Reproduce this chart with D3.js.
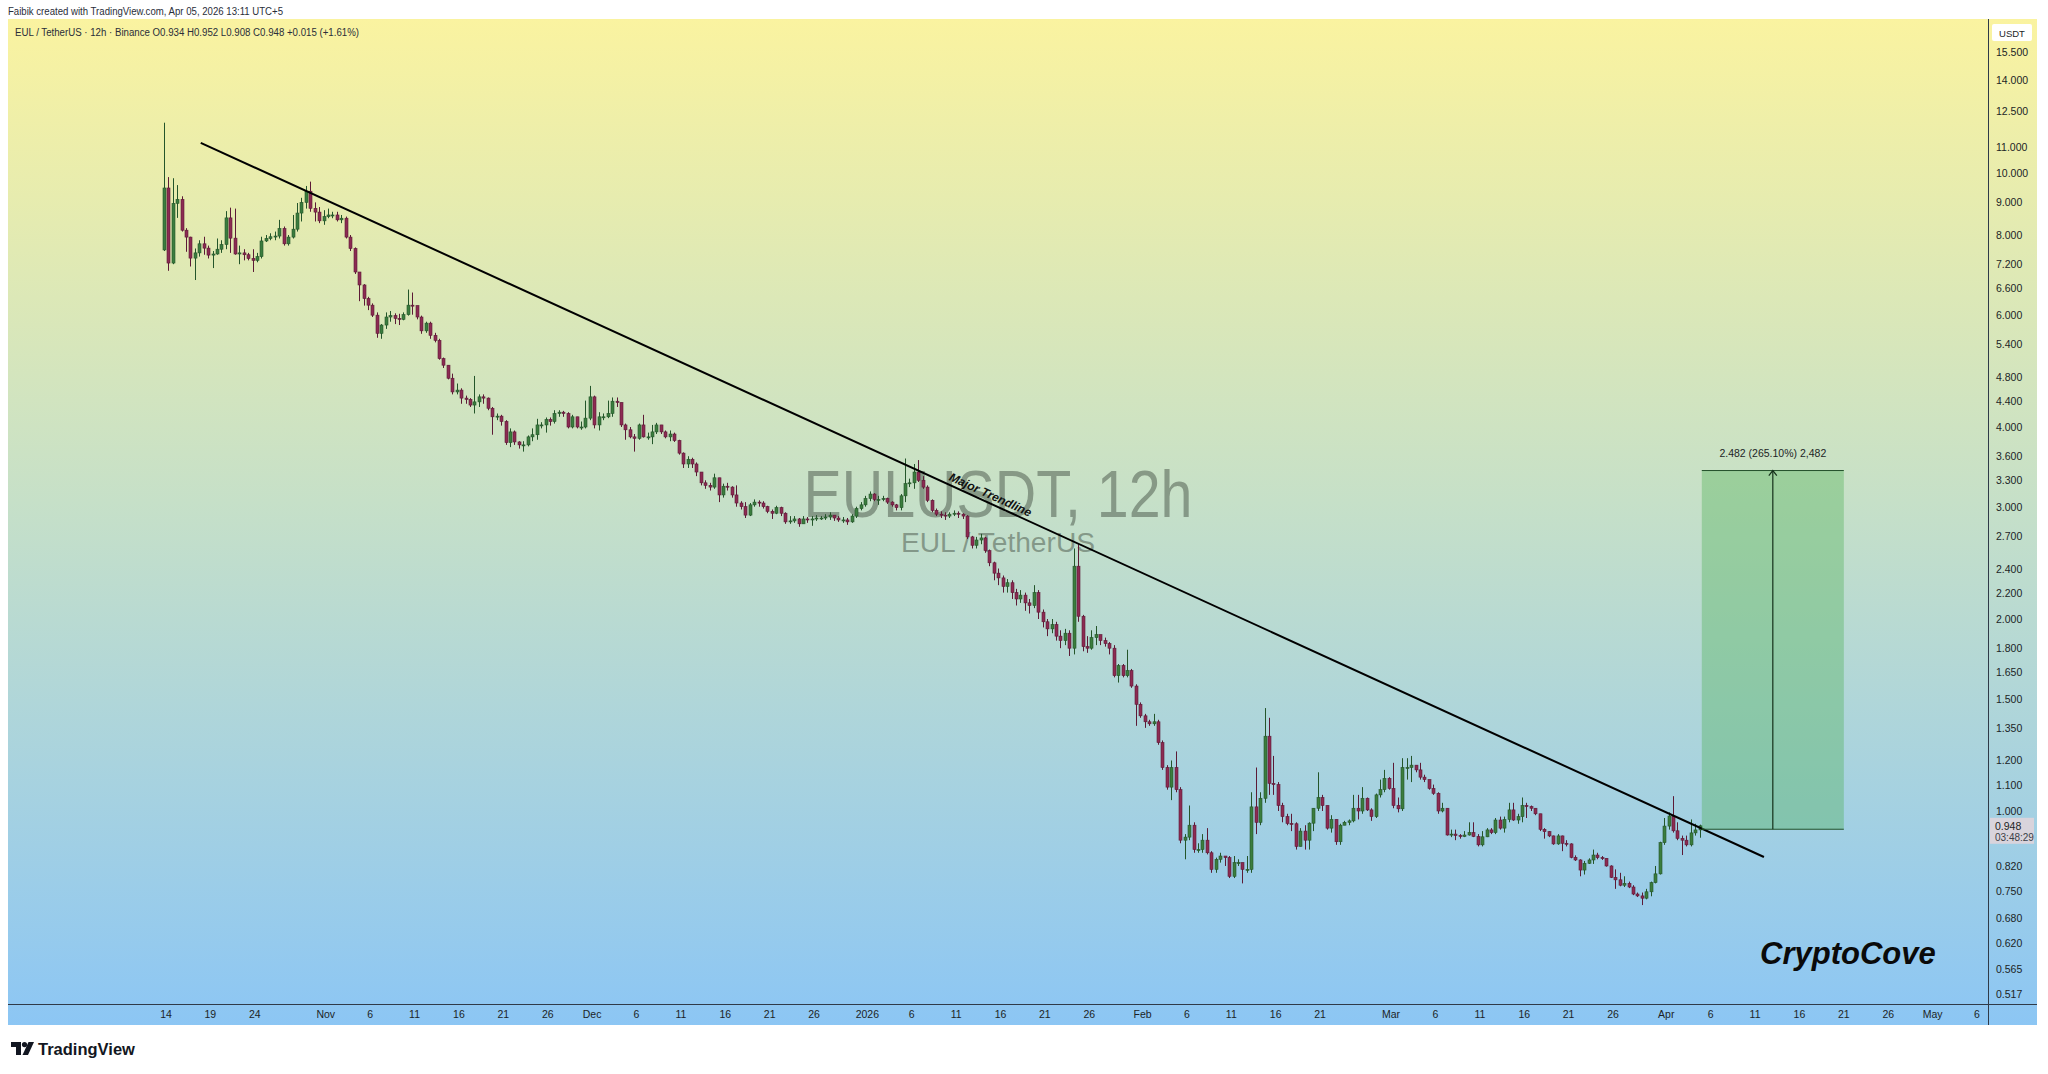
<!DOCTYPE html>
<meta charset="utf-8">
<title>EULUSDT, 12h</title>
<style>
body { margin: 0; background: #ffffff; }
text { font-family: "Liberation Sans", Arial, sans-serif; }
</style>
<svg width="2048" height="1074"></svg>
<script src="https://d3js.org/d3.v7.min.js"></script>
<script>

// 12h candles, EUL / TetherUS (Binance)
var startTime = Date.UTC(2025, 9, 13, 18);
var firstOpen = 7.58;

var closes = [
  9.48,7.23,8.97,9.1,8.14,7.94,7.36,7.5,7.75,7.63,
  7.44,7.47,7.6,7.73,8.51,7.91,7.47,7.5,7.45,7.35,
  7.3,7.4,7.83,7.9,7.95,7.97,8.19,7.75,7.94,8.17,
  8.66,9.0,9.37,8.81,8.69,8.42,8.55,8.6,8.6,8.45,
  8.5,7.94,7.62,7.0,6.68,6.36,6.21,5.99,5.61,5.78,
  5.95,5.98,5.92,5.9,6.0,6.21,6.2,5.95,5.66,5.82,
  5.57,5.47,5.12,5.0,4.77,4.54,4.57,4.44,4.42,4.33,
  4.38,4.46,4.44,4.28,4.15,4.16,4.08,3.78,3.93,3.79,
  3.75,3.75,3.86,3.89,4.03,4.03,4.11,4.08,4.2,4.22,
  4.2,4.0,4.15,4.0,4.0,4.13,4.46,4.03,4.15,4.15,
  4.2,4.39,4.37,4.03,3.96,3.86,3.84,4.03,3.86,3.86,
  3.93,4.03,3.93,3.86,3.9,3.81,3.64,3.5,3.56,3.5,
  3.4,3.27,3.24,3.22,3.33,3.13,3.23,3.22,3.13,3.04,
  3.0,2.91,3.02,3.05,3.04,3.0,2.95,2.93,2.99,2.93,
  2.84,2.85,2.87,2.82,2.87,2.86,2.87,2.88,2.88,2.89,
  2.91,2.88,2.86,2.86,2.84,2.9,2.98,3.02,3.09,3.14,
  3.08,3.08,3.09,3.05,3.02,2.99,3.12,3.26,3.27,3.4,
  3.3,3.22,3.07,2.96,2.92,2.91,2.9,2.92,2.93,2.92,
  2.9,2.69,2.61,2.66,2.68,2.56,2.45,2.36,2.32,2.25,
  2.28,2.2,2.15,2.18,2.12,2.1,2.2,2.05,1.98,1.93,
  1.96,1.88,1.85,1.9,1.8,2.42,2.02,1.81,1.8,1.87,
  1.89,1.85,1.83,1.8,1.63,1.69,1.63,1.66,1.57,1.47,
  1.41,1.38,1.37,1.38,1.28,1.17,1.09,1.17,1.08,0.9,
  0.91,0.95,0.87,0.87,0.9,0.86,0.81,0.84,0.85,0.845,
  0.79,0.83,0.83,0.81,0.81,1.015,0.96,1.047,1.31,1.105,
  1.1,1.02,0.98,0.956,0.955,0.88,0.93,0.9,0.957,1.01,
  1.05,1.02,0.94,0.97,0.895,0.95,0.96,0.965,1.01,1.0,
  1.047,1.004,0.98,1.06,1.08,1.125,1.085,1.02,1.008,1.17,
  1.17,1.18,1.16,1.13,1.12,1.085,1.066,1.0,1.01,0.917,
  0.92,0.915,0.912,0.917,0.925,0.912,0.885,0.911,0.934,0.925,
  0.968,0.94,0.97,1.004,0.968,0.98,1.02,1.016,1.01,0.99,
  0.936,0.928,0.914,0.888,0.914,0.89,0.888,0.846,0.838,0.808,
  0.828,0.838,0.853,0.845,0.843,0.82,0.787,0.78,0.765,0.77,
  0.76,0.741,0.736,0.73,0.747,0.772,0.797,0.892,0.947,0.982,
  0.931,0.906,0.9,0.885,0.924,0.934,0.948
];

var highs = [
  12.0,9.86,9.82,9.58,9.2,8.2,7.95,7.62,7.85,7.95,
  7.7,7.55,7.9,7.85,8.72,8.83,8.8,7.7,7.6,7.5,
  7.6,7.5,7.95,8.0,8.05,8.1,8.45,8.25,8.0,8.6,
  8.98,9.15,9.55,9.7,9.0,8.85,8.75,8.8,8.7,8.7,
  8.6,8.55,8.0,7.65,7.0,6.7,6.4,6.25,6.05,5.8,
  6.05,6.08,6.03,6.02,6.05,6.57,6.5,6.2,5.98,5.85,
  5.85,5.62,5.5,5.14,5.0,4.85,4.68,4.6,4.48,4.44,
  4.81,4.5,4.5,4.45,4.3,4.2,4.18,4.1,3.98,3.95,
  3.8,3.8,3.88,3.98,4.12,4.07,4.14,4.14,4.25,4.25,
  4.24,4.22,4.18,4.12,4.08,4.4,4.64,4.48,4.22,4.2,
  4.4,4.45,4.45,4.37,4.05,4.0,3.9,4.05,4.18,3.92,
  4.03,4.06,4.03,3.95,3.95,3.92,3.82,3.65,3.6,3.58,
  3.52,3.4,3.3,3.27,3.38,3.33,3.26,3.27,3.23,3.24,
  3.06,3.05,3.04,3.08,3.07,3.06,3.01,2.97,3.01,3.0,
  2.94,2.9,2.9,2.88,2.9,2.89,2.9,2.91,2.9,2.92,
  2.94,2.91,2.9,2.89,2.88,2.92,3.0,3.05,3.12,3.17,
  3.15,3.12,3.12,3.1,3.06,3.03,3.14,3.57,3.32,3.5,
  3.55,3.35,3.24,3.08,2.98,2.95,2.94,2.94,2.96,2.95,
  2.93,2.91,2.7,2.69,2.72,2.69,2.57,2.46,2.4,2.34,
  2.31,2.3,2.23,2.22,2.2,2.15,2.26,2.22,2.07,2.0,
  2.0,1.98,1.92,1.93,1.92,2.58,2.62,2.03,1.88,1.92,
  1.95,1.89,1.87,1.84,1.82,1.7,1.7,1.79,1.67,1.58,
  1.48,1.42,1.39,1.42,1.39,1.29,1.18,1.2,1.24,1.09,
  0.92,1.02,0.96,0.89,0.92,0.94,0.865,0.845,0.86,0.85,
  0.85,0.85,0.84,0.83,0.85,1.07,1.17,1.07,1.45,1.4,
  1.22,1.11,1.03,0.99,0.99,0.96,0.94,0.95,0.96,1.01,
  1.15,1.06,1.02,0.985,0.97,0.955,0.965,0.97,1.06,1.06,
  1.09,1.05,1.01,1.065,1.12,1.16,1.13,1.19,1.05,1.21,
  1.21,1.22,1.18,1.19,1.14,1.12,1.1,1.07,1.03,1.01,
  0.935,0.935,0.92,0.93,0.96,0.96,0.92,0.93,0.94,0.94,
  0.975,0.98,0.98,1.03,1.03,0.99,1.05,1.03,1.02,1.01,
  0.99,0.94,0.93,0.915,0.92,0.915,0.9,0.89,0.852,0.84,
  0.835,0.843,0.87,0.86,0.85,0.843,0.822,0.81,0.8,0.79,
  0.775,0.765,0.745,0.745,0.755,0.775,0.82,0.895,0.975,0.995,
  1.055,0.96,0.915,0.915,0.97,0.955,0.952
];

var lows = [
  7.55,7.03,7.2,8.51,8.1,7.53,7.14,6.8,7.4,7.45,
  7.35,7.1,7.45,7.5,7.6,7.5,7.45,7.2,7.3,7.3,
  7.0,7.25,7.35,7.8,7.85,7.85,7.9,7.7,7.7,7.9,
  8.1,8.4,8.8,8.7,8.4,8.35,8.3,8.5,8.5,8.4,
  8.35,7.9,7.55,6.95,6.3,6.2,6.1,5.95,5.52,5.5,
  5.7,5.85,5.8,5.78,5.88,5.98,6.0,5.9,5.6,5.62,
  5.5,5.43,5.1,4.95,4.75,4.5,4.5,4.35,4.35,4.3,
  4.2,4.3,4.35,4.25,3.89,4.1,4.02,3.75,3.72,3.75,
  3.7,3.66,3.73,3.8,3.82,3.98,3.92,4.02,4.05,4.15,
  4.15,3.98,3.98,3.98,3.96,3.98,4.1,3.98,3.95,4.1,
  4.13,4.15,4.3,4.0,3.82,3.84,3.66,3.82,3.85,3.82,
  3.76,3.9,3.9,3.84,3.8,3.79,3.62,3.45,3.45,3.45,
  3.35,3.24,3.2,3.18,3.2,3.05,3.1,3.18,3.1,3.0,
  2.97,2.88,2.9,3.0,3.0,2.98,2.93,2.87,2.92,2.9,
  2.82,2.82,2.83,2.79,2.82,2.83,2.8,2.85,2.86,2.86,
  2.86,2.85,2.84,2.83,2.81,2.83,2.88,2.96,3.0,3.06,
  3.06,3.02,3.06,3.03,3.0,2.96,2.96,3.05,3.22,3.2,
  3.28,3.2,3.05,2.94,2.9,2.88,2.86,2.88,2.9,2.88,
  2.87,2.67,2.58,2.58,2.62,2.54,2.42,2.3,2.26,2.2,
  2.2,2.15,2.1,2.12,2.06,2.04,2.08,2.0,1.94,1.88,
  1.9,1.85,1.8,1.82,1.75,1.76,1.98,1.78,1.77,1.79,
  1.82,1.82,1.81,1.76,1.62,1.59,1.62,1.62,1.56,1.36,
  1.4,1.35,1.36,1.36,1.27,1.16,1.08,1.04,1.07,0.89,
  0.84,0.9,0.86,0.86,0.86,0.855,0.8,0.8,0.83,0.82,
  0.785,0.785,0.82,0.77,0.8,0.8,0.92,0.95,1.03,1.06,
  1.06,1.0,0.96,0.95,0.93,0.87,0.88,0.87,0.87,0.93,
  1.0,1.0,0.935,0.925,0.885,0.885,0.95,0.95,0.96,0.97,
  0.99,1.0,0.965,0.975,1.05,1.07,1.08,1.01,0.995,1.0,
  1.12,1.11,1.15,1.12,1.11,1.08,1.06,0.99,0.995,0.915,
  0.91,0.9,0.905,0.91,0.915,0.91,0.88,0.88,0.91,0.92,
  0.92,0.935,0.925,0.96,0.965,0.955,0.96,0.975,1.0,0.985,
  0.93,0.905,0.91,0.885,0.885,0.865,0.88,0.843,0.835,0.79,
  0.795,0.826,0.826,0.84,0.838,0.818,0.785,0.755,0.762,0.76,
  0.757,0.738,0.733,0.712,0.727,0.735,0.77,0.795,0.885,0.935,
  0.925,0.9,0.853,0.88,0.88,0.915,0.908
];

var priceTicks = [15.5, 14, 12.5, 11, 10, 9, 8, 7.2, 6.6, 6, 5.4, 4.8, 4.4, 4, 3.6, 3.3, 3,
  2.7, 2.4, 2.2, 2, 1.8, 1.65, 1.5, 1.35, 1.2, 1.1, 1, 0.82, 0.75, 0.68, 0.62, 0.565, 0.517];

var timeTicks = ["2025-10-14","2025-10-19","2025-10-24","2025-11-01","2025-11-06","2025-11-11",
  "2025-11-16","2025-11-21","2025-11-26","2025-12-01","2025-12-06","2025-12-11","2025-12-16",
  "2025-12-21","2025-12-26","2026-01-01","2026-01-06","2026-01-11","2026-01-16","2026-01-21",
  "2026-01-26","2026-02-01","2026-02-06","2026-02-11","2026-02-16","2026-02-21","2026-03-01",
  "2026-03-06","2026-03-11","2026-03-16","2026-03-21","2026-03-26","2026-04-01","2026-04-06",
  "2026-04-11","2026-04-16","2026-04-21","2026-04-26","2026-05-01","2026-05-06"];
var timeLabels = ["14","19","24","Nov","6","11","16","21","26","Dec","6","11","16","21","26",
  "2026","6","11","16","21","26","Feb","6","11","16","21","Mar","6","11","16","21","26",
  "Apr","6","11","16","21","26","May","6"];

// drawings
var trendline = [{t: "2025-10-17T22:00Z", p: 11.16}, {t: "2026-04-12T00:00Z", p: 0.847}];
var projection = {t0: "2026-04-05T00:00Z", t1: "2026-04-21T00:00Z", from: 0.93626, to: 3.41826};
var lastPrice = 0.948;

var svg = d3.select("svg");

var pane = {left: 8, right: 1988, top: 19, bottom: 1004, axisRight: 2037, axisBottom: 1025};

var x = d3.scaleUtc()
    .domain([new Date("2025-10-14T00:00Z"), new Date("2026-05-06T00:00Z")])
    .range([166, 1977]);
var y = d3.scaleLog().domain([1, 10]).range([811, 173.2]);

// background gradient
var defs = svg.append("defs");
var grad = defs.append("linearGradient").attr("id", "bg")
    .attr("x1", 0).attr("y1", 0).attr("x2", 0).attr("y2", 1);
grad.append("stop").attr("offset", "0%").attr("stop-color", "#faf3a0");
grad.append("stop").attr("offset", "48%").attr("stop-color", "#c6e0c8");
grad.append("stop").attr("offset", "100%").attr("stop-color", "#8cc6f4");

defs.append("clipPath").attr("id", "clip").append("rect")
    .attr("x", pane.left).attr("y", pane.top)
    .attr("width", pane.right - pane.left).attr("height", pane.bottom - pane.top);

svg.append("rect")
    .attr("x", pane.left).attr("y", pane.top)
    .attr("width", pane.axisRight - pane.left).attr("height", pane.axisBottom - pane.top)
    .attr("fill", "url(#bg)");

// watermark
svg.append("text")
    .attr("x", (pane.left + pane.right) / 2).attr("y", 517)
    .attr("text-anchor", "middle")
    .attr("font-family", "Roboto, sans-serif")
    .attr("font-size", 66)
    .attr("textLength", 389).attr("lengthAdjust", "spacingAndGlyphs")
    .attr("fill", "rgba(70,82,70,0.5)")
    .text("EULUSDT, 12h");
svg.append("text")
    .attr("x", (pane.left + pane.right) / 2).attr("y", 552)
    .attr("text-anchor", "middle")
    .attr("font-family", "Roboto, sans-serif")
    .attr("font-size", 27)
    .attr("textLength", 194).attr("lengthAdjust", "spacingAndGlyphs")
    .attr("fill", "rgba(70,82,70,0.5)")
    .text("EUL / TetherUS");

// candles
var candles = closes.map(function(c, i) {
  var o = i === 0 ? firstOpen : closes[i - 1];
  return {
    t: new Date(startTime + i * 12 * 3600 * 1000),
    o: o, c: c,
    h: Math.max(highs[i], o, c),
    l: Math.min(lows[i], o, c)
  };
});

var plot = svg.append("g").attr("clip-path", "url(#clip)");

var candle = plot.append("g").attr("class", "candles")
  .selectAll("g")
  .data(candles)
  .enter().append("g");

candle.append("line")
    .attr("x1", function(d) { return Math.round(x(d.t)) + 0.5; })
    .attr("x2", function(d) { return Math.round(x(d.t)) + 0.5; })
    .attr("y1", function(d) { return y(d.h); })
    .attr("y2", function(d) { return y(d.l); })
    .attr("stroke", function(d) { return d.c >= d.o ? "#24552a" : "#5c1a36"; })
    .attr("stroke-width", 1);

candle.append("rect")
    .attr("x", function(d) { return Math.round(x(d.t)) - 1; })
    .attr("width", 3)
    .attr("y", function(d) { return y(Math.max(d.o, d.c)); })
    .attr("height", function(d) { return Math.max(1, Math.abs(y(d.o) - y(d.c))); })
    .attr("fill", function(d) { return d.c >= d.o ? "#3b7d3e" : "#8c2b52"; })
    .attr("stroke", function(d) { return d.c >= d.o ? "#24552a" : "#5c1a36"; })
    .attr("stroke-width", 0.6);

// trendline
var tl = trendline.map(function(d) { return [x(new Date(d.t)), y(d.p)]; });
plot.append("line")
    .attr("x1", tl[0][0]).attr("y1", tl[0][1])
    .attr("x2", tl[1][0]).attr("y2", tl[1][1])
    .attr("stroke", "#000").attr("stroke-width", 2);

var angle = Math.atan2(tl[1][1] - tl[0][1], tl[1][0] - tl[0][0]) * 180 / Math.PI;
var mid = [tl[0][0] + (tl[1][0] - tl[0][0]) * 0.503, tl[0][1] + (tl[1][1] - tl[0][1]) * 0.503];
plot.append("text")
    .attr("transform", "translate(" + mid[0] + "," + mid[1] + ") rotate(" + angle + ")")
    .attr("text-anchor", "middle")
    .attr("dy", -4)
    .attr("font-size", 12).attr("font-weight", "bold").attr("font-style", "italic")
    .attr("fill", "#111")
    .text("Major Trendline");

// projection box
var bx0 = x(new Date(projection.t0)), bx1 = x(new Date(projection.t1));
var by0 = y(projection.to), by1 = y(projection.from);
var bxm = (bx0 + bx1) / 2;
plot.append("rect")
    .attr("x", bx0).attr("y", by0)
    .attr("width", bx1 - bx0).attr("height", by1 - by0)
    .attr("fill", "rgba(76,175,80,0.36)");
plot.append("line").attr("x1", bx0).attr("x2", bx1).attr("y1", by0).attr("y2", by0)
    .attr("stroke", "#23502a").attr("stroke-width", 1);
plot.append("line").attr("x1", bx0).attr("x2", bx1).attr("y1", by1).attr("y2", by1)
    .attr("stroke", "#23502a").attr("stroke-width", 1);
plot.append("line").attr("x1", bxm).attr("x2", bxm).attr("y1", by1).attr("y2", by0)
    .attr("stroke", "#15301a").attr("stroke-width", 1.2);
plot.append("path")
    .attr("d", "M" + (bxm - 4) + "," + (by0 + 5) + "L" + bxm + "," + by0 + "L" + (bxm + 4) + "," + (by0 + 5))
    .attr("fill", "none").attr("stroke", "#15301a").attr("stroke-width", 1.2);
var diff = projection.to - projection.from;
svg.append("text")
    .attr("x", bxm).attr("y", by0 - 14)
    .attr("text-anchor", "middle")
    .attr("font-size", 10.5).attr("fill", "#1c1f26")
    .text(d3.format(".3f")(diff) + " (" + d3.format(".2f")(diff / projection.from * 100) + "%) " + d3.format(".3f")(diff).replace(".", ","));

// signature
svg.append("text")
    .attr("x", 1760).attr("y", 964)
    .attr("font-family", "'Open Sans', sans-serif")
    .attr("font-size", 31).attr("font-weight", "bold").attr("font-style", "italic")
    .attr("fill", "#0a0a0a")
    .text("CryptoCove");

// axes frame
svg.append("line")
    .attr("x1", pane.left).attr("x2", pane.axisRight)
    .attr("y1", pane.bottom + 0.5).attr("y2", pane.bottom + 0.5)
    .attr("stroke", "#2f3a48").attr("stroke-width", 1);
svg.append("line")
    .attr("x1", pane.right + 0.5).attr("x2", pane.right + 0.5)
    .attr("y1", pane.top).attr("y2", pane.axisBottom)
    .attr("stroke", "#2f3a48").attr("stroke-width", 1);

// price axis
svg.append("g").selectAll("text")
  .data(priceTicks)
  .enter().append("text")
    .attr("x", 1996)
    .attr("y", function(d) { return y(d) + 4; })
    .attr("font-size", 10.5).attr("fill", "#1c1f26")
    .text(function(d) { return d3.format(".3f")(d); });

svg.append("rect")
    .attr("x", 1992).attr("y", 24).attr("width", 40).attr("height", 17)
    .attr("rx", 2).attr("fill", "#ffffff");
svg.append("text")
    .attr("x", 2012).attr("y", 36.5).attr("text-anchor", "middle")
    .attr("font-size", 9.5).attr("fill", "#1c1f26")
    .text("USDT");

var ly = y(lastPrice);
svg.append("rect")
    .attr("x", 1990).attr("y", ly - 8).attr("width", 44).attr("height", 26)
    .attr("fill", "#d9d4dc");
svg.append("text")
    .attr("x", 1995).attr("y", ly + 4)
    .attr("font-size", 10.5).attr("fill", "#1c1f26")
    .text(d3.format(".3f")(lastPrice));
svg.append("text")
    .attr("x", 1995).attr("y", ly + 15)
    .attr("font-size", 10).attr("fill", "#3b3f48")
    .text("03:48:29");

// time axis
svg.append("g").selectAll("text")
  .data(timeTicks)
  .enter().append("text")
    .attr("x", function(d) { return x(new Date(d + "T00:00Z")); })
    .attr("y", 1018)
    .attr("text-anchor", "middle")
    .attr("font-size", 10.5).attr("fill", "#1c1f26")
    .text(function(d, i) { return timeLabels[i]; });

// header
svg.append("text")
    .attr("x", 8).attr("y", 15)
    .attr("font-size", 10).attr("fill", "#2a2e39")
    .attr("textLength", 275).attr("lengthAdjust", "spacingAndGlyphs")
    .text("Faibik created with TradingView.com, Apr 05, 2026 13:11 UTC+5");
svg.append("text")
    .attr("x", 15).attr("y", 36)
    .attr("font-size", 10).attr("fill", "#2a2e39")
    .attr("textLength", 344).attr("lengthAdjust", "spacingAndGlyphs")
    .text("EUL / TetherUS \u00b7 12h \u00b7 Binance  O0.934  H0.952  L0.908  C0.948  +0.015 (+1.61%)");

// TradingView logo
var logo = svg.append("g").attr("transform", "translate(11,1042)").attr("fill", "#131722");
logo.append("path").attr("d", "M0 0H10V13H5V5H0Z");
logo.append("circle").attr("cx", 13.5).attr("cy", 2.6).attr("r", 2.6);
logo.append("path").attr("d", "M17.5 0H23L17 13H11.5Z");
svg.append("text")
    .attr("x", 38).attr("y", 1055)
    .attr("font-size", 16.5).attr("font-weight", "bold").attr("fill", "#131722")
    .text("TradingView");

</script>
